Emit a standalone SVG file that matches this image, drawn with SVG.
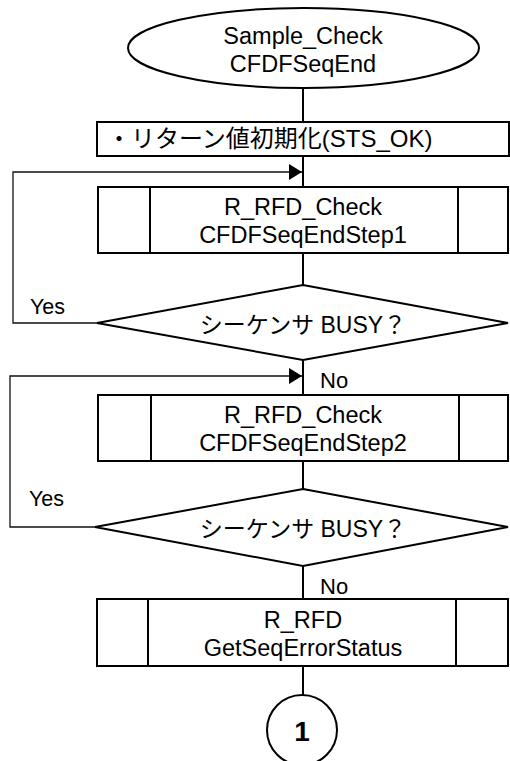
<svg xmlns="http://www.w3.org/2000/svg" width="510" height="761" viewBox="0 0 510 761">
<style>
.s{fill:#fff;stroke:#000;stroke-width:2}
.c{fill:none;stroke:#000;stroke-width:2}
.l{fill:none;stroke:#111;stroke-width:1.3}
text{font-family:"Liberation Sans","Noto Sans CJK JP",Arial,sans-serif;fill:#000}
.t{font-size:23.5px;text-anchor:middle}
.d{font-size:23px;text-anchor:middle}
.y{font-size:21.5px}
</style>
<defs>
<marker id="ah" markerWidth="14" markerHeight="16" refX="13" refY="8" orient="auto" markerUnits="userSpaceOnUse">
<path d="M0,0 L13,8 L0,16 Z" fill="#000"/>
</marker>
</defs>
<g id="connectors">
<line class="c" x1="303" y1="88" x2="303" y2="122"/>
<line class="c" x1="303" y1="156" x2="303" y2="187"/>
<line class="c" x1="303" y1="253" x2="303" y2="285"/>
<line class="c" x1="303" y1="360" x2="303" y2="395"/>
<line class="c" x1="303" y1="461" x2="303" y2="489"/>
<line class="c" x1="303" y1="566" x2="303" y2="599"/>
<line class="c" x1="303" y1="666" x2="303" y2="695"/>
<polyline class="l" points="97,323 13,323 13,172 302,172" marker-end="url(#ah)"/>
<polyline class="l" points="95,527 10,527 10,376 302,376" marker-end="url(#ah)"/>
<text class="y" x="30" y="314">Yes</text>
<text class="y" x="29" y="506">Yes</text>
<text class="y" x="320" y="388" style="font-size:22px">No</text>
<text class="y" x="320" y="594" style="font-size:22px">No</text>
</g>
<g id="start">
<ellipse class="s" cx="303.5" cy="48" rx="175.5" ry="40"/>
<text class="t" x="303" y="44">Sample_Check</text>
<text class="t" x="303" y="72">CFDFSeqEnd</text>
</g>
<g id="init">
<rect class="s" x="97" y="122" width="412" height="34"/>
<text x="107" y="147" style="font-size:24px">・リターン値初期化(STS_OK)</text>
</g>
<g id="step1">
<rect class="s" x="98" y="187" width="410" height="66"/>
<line class="c" x1="150" y1="187" x2="150" y2="253"/>
<line class="c" x1="458" y1="187" x2="458" y2="253"/>
<text class="t" x="303" y="215">R_RFD_Check</text>
<text class="t" x="303" y="243">CFDFSeqEndStep1</text>
</g>
<g id="busy1">
<polygon class="s" points="303,285 508,323 303,360 97,323"/>
<text class="d" x="303" y="333">シーケンサ BUSY？</text>
</g>
<g id="step2">
<rect class="s" x="98" y="395" width="410" height="66"/>
<line class="c" x1="151" y1="395" x2="151" y2="461"/>
<line class="c" x1="459" y1="395" x2="459" y2="461"/>
<text class="t" x="303" y="423">R_RFD_Check</text>
<text class="t" x="303" y="451">CFDFSeqEndStep2</text>
</g>
<g id="busy2">
<polygon class="s" points="303,489 508,527 303,566 95,527"/>
<text class="d" x="303" y="537">シーケンサ BUSY？</text>
</g>
<g id="status">
<rect class="s" x="97" y="599" width="411" height="67"/>
<line class="c" x1="148" y1="599" x2="148" y2="666"/>
<line class="c" x1="456" y1="599" x2="456" y2="666"/>
<text class="t" x="303" y="628">R_RFD</text>
<text class="t" x="303" y="656">GetSeqErrorStatus</text>
</g>
<g id="connector1">
<circle class="s" cx="302" cy="730" r="35"/>
<text x="302" y="741" style="font-size:28px;font-weight:bold;text-anchor:middle">1</text>
</g>
</svg>
